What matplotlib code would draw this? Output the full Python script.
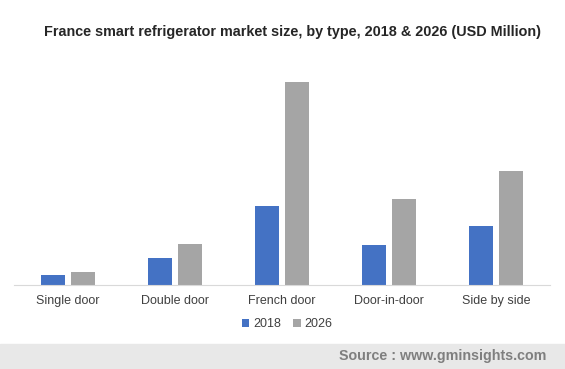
import numpy as np
import matplotlib.pyplot as plt
from matplotlib.patches import Rectangle

plt.rcParams['font.family'] = ['Liberation Sans', 'DejaVu Sans']

categories = ['Single door', 'Double door', 'French door', 'Door-in-door', 'Side by side']
years = ['2018', '2026']
v2018 = [10, 27, 79, 40, 59]
v2026 = [13, 41, 203, 86, 114]

W, H = 565, 369
fig = plt.figure(figsize=(W/100, H/100), dpi=100)
ax = fig.add_axes([14/W, 1-285/H, (550-14)/W, (285-60)/H])

x = np.arange(len(categories))
bw = 0.224
ax.bar(x-0.14, v2018, bw, color='#4472C4', label=years[0])
ax.bar(x+0.14, v2026, bw, color='#A5A5A5', label=years[1])
ax.set_xlim(-0.5, len(categories)-0.5)
ax.set_ylim(0, 225)
ax.set_yticks([])
ax.set_xticks(x)
ax.set_xticklabels(categories, fontsize=9, color='#404040')
ax.tick_params(axis='x', length=0, pad=7)
for s in ['top', 'right', 'left']:
    ax.spines[s].set_visible(False)
ax.spines['bottom'].set_color('#d9d9d9')

ax.legend(loc='center', bbox_to_anchor=(287/W, 1-324/H), bbox_transform=fig.transFigure,
          ncol=2, frameon=False, fontsize=9, handlelength=0.6, handleheight=0.6,
          handletextpad=0.3, columnspacing=1.0, labelcolor='#404040')

fig.text(292/W, 1-32/H, 'France smart refrigerator market size, by type, 2018 & 2026 (USD Million)',
         ha='center', va='center', fontsize=10.4, fontweight='bold', color='#262626')

fig.patches.append(Rectangle((0, 0), 1, 25/H, transform=fig.transFigure, color='#e8e8e8', zorder=0))
fig.text(546/W, 1-356/H, 'Source : www.gminsights.com', ha='right', va='center',
         fontsize=10.3, fontweight='bold', color='#7f7f7f')

fig.savefig('out.png', dpi=100)
